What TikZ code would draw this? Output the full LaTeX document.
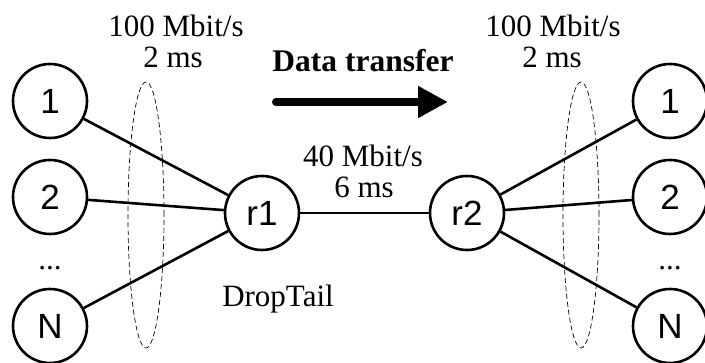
\documentclass[tikz,border=0pt]{standalone}
\usepackage{fontspec}
\setmainfont{Liberation Serif}
\newfontfamily\nodefont{Liberation Sans}
\usetikzlibrary{arrows.meta,shapes.geometric}
\begin{document}
\begin{tikzpicture}[x=1pt,y=-1pt,
  host/.style={circle,draw,line width=2.6pt,minimum size=74pt,inner sep=0pt,font=\nodefont\fontsize{35}{35}\selectfont},
  link/.style={line width=2.6pt},
  lbl/.style={anchor=base,inner sep=0pt,font=\fontsize{31}{31}\selectfont},
  grp/.style={draw,line width=0.7pt,dash pattern=on 5pt off 3pt}]
\useasboundingbox (0,0) rectangle (705,363);
% left hosts
\node[host] (l1) at (50,101) {1};
\node[host] (l2) at (50,197) {2};
\node[lbl] (ld) at (50,270) {...};
\node[host] (lN) at (50,326) {N};
% routers
\node[host] (r1) at (262,213) {r1};
\node[host] (r2) at (467,213) {r2};
% right hosts
\node[host] (q1) at (670,101) {1};
\node[host] (q2) at (670,197) {2};
\node[lbl] (qd) at (670,270) {...};
\node[host] (qN) at (670,326) {N};
% links
\draw[link] (l1) -- (r1);
\draw[link] (l2) -- (r1);
\draw[link] (lN) -- (r1);
\draw[line width=2pt] (r1) -- (r2);
\draw[link] (r2) -- (q1);
\draw[link] (r2) -- (q2);
\draw[link] (r2) -- (qN);
% groups
\node[grp,ellipse,minimum width=36pt,minimum height=266pt,inner sep=0pt] (eL) at (146,215) {};
\node[grp,ellipse,minimum width=36pt,minimum height=266pt,inner sep=0pt] (eR) at (581,215) {};
% labels
\node[lbl] (t1) at (176,37) {100 Mbit/s};
\node[lbl] (t2) at (173,68) {2 ms};
\node[lbl] (t3) at (553,37) {100 Mbit/s};
\node[lbl] (t4) at (552,68) {2 ms};
\node[lbl] (t5) at (363,167) {40 Mbit/s};
\node[lbl] (t6) at (364,198) {6 ms};
\node[lbl] (t7) at (278,307) {DropTail};
\node[lbl,font=\bfseries\fontsize{31.5}{31.5}\selectfont] (dt) at (363,72) {Data transfer};
\coordinate (a0) at (276,102);
\coordinate (a1) at (448,102);
\draw[line width=8pt,line cap=round,-{Triangle[length=30pt,width=30pt,line cap=butt]}] (a0) -- (a1);
\end{tikzpicture}
\end{document}
